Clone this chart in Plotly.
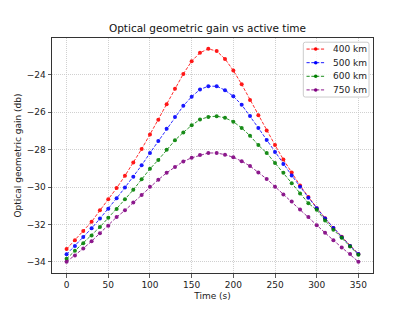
import plotly.graph_objects as go

time_s = list(range(0, 360, 10))

gain_400 = [-33.32, -32.85, -32.36, -31.86, -31.25, -30.66, -30.06, -29.40, -28.69, -27.97,
            -27.19, -26.40, -25.57, -24.75, -23.95, -23.27, -22.82, -22.61, -22.73, -23.15,
            -23.77, -24.51, -25.34, -26.16, -26.98, -27.76, -28.53, -29.23, -29.92, -30.53,
            -31.13, -31.67, -32.19, -32.66, -33.15, -33.58]
gain_500 = [-33.60, -33.15, -32.68, -32.21, -31.69, -31.16, -30.60, -30.03, -29.45, -28.84,
            -28.18, -27.54, -26.89, -26.26, -25.66, -25.17, -24.78, -24.61, -24.61, -24.82,
            -25.15, -25.60, -26.20, -26.84, -27.48, -28.13, -28.77, -29.38, -29.98, -30.57,
            -31.13, -31.68, -32.19, -32.69, -33.15, -33.58]
gain_600 = [-33.84, -33.41, -33.01, -32.59, -32.14, -31.65, -31.18, -30.66, -30.15, -29.59,
            -29.03, -28.55, -28.01, -27.50, -27.08, -26.70, -26.39, -26.25, -26.21, -26.30,
            -26.51, -26.84, -27.26, -27.76, -28.18, -28.72, -29.24, -29.80, -30.35, -30.87,
            -31.22, -31.79, -32.28, -32.71, -33.18, -33.63]
gain_750 = [-34.00, -33.67, -33.29, -32.90, -32.48, -32.07, -31.61, -31.25, -30.83, -30.43,
            -29.98, -29.61, -29.24, -28.93, -28.63, -28.44, -28.29, -28.18, -28.18, -28.27,
            -28.41, -28.62, -28.88, -29.23, -29.57, -29.98, -30.40, -30.78, -31.20, -31.61,
            -32.05, -32.45, -32.85, -33.23, -33.58, -34.00]

series_names = ["400 km", "500 km", "600 km", "750 km"]
series_values = [gain_400, gain_500, gain_600, gain_750]
series_colors = ["red", "blue", "green", "purple"]

x_ticks = [0, 50, 100, 150, 200, 250, 300, 350]
y_ticks = [-34, -32, -30, -28, -26, -24]

W, H = 415, 312
ML, MR, MT, MB = 52, 42, 38, 34
PW, PH = W - ML - MR, H - MT - MB

def px_x(px):  # pixel -> paper x
    return (px - ML) / PW

def px_y(py):  # pixel -> paper y
    return 1 - (py - MT) / PH

DASH = "3.2px,1.6px"
font = "DejaVu Sans"

fig = go.Figure()
for name, vals, col in zip(series_names, series_values, series_colors):
    fig.add_trace(go.Scatter(
        x=time_s, y=vals, name=name, mode="lines+markers",
        line=dict(color=col, width=0.9, dash=DASH),
        marker=dict(color=col, size=4),
        opacity=0.9, showlegend=False,
    ))

# matplotlib-style legend built from the series lists
shapes = []
annotations = []
box_l, box_r, box_t, box_b = 303.3, 369, 42.3, 98.3
row_h = 13.9
row0 = 49.3
r = 2.0
path = (f"M {px_x(box_l + r)},{px_y(box_t)} L {px_x(box_r - r)},{px_y(box_t)} "
        f"Q {px_x(box_r)},{px_y(box_t)} {px_x(box_r)},{px_y(box_t + r)} "
        f"L {px_x(box_r)},{px_y(box_b - r)} Q {px_x(box_r)},{px_y(box_b)} {px_x(box_r - r)},{px_y(box_b)} "
        f"L {px_x(box_l + r)},{px_y(box_b)} Q {px_x(box_l)},{px_y(box_b)} {px_x(box_l)},{px_y(box_b - r)} "
        f"L {px_x(box_l)},{px_y(box_t + r)} Q {px_x(box_l)},{px_y(box_t)} {px_x(box_l + r)},{px_y(box_t)} Z")
shapes.append(dict(type="path", xref="paper", yref="paper", path=path,
                   line=dict(color="#cccccc", width=1), fillcolor="rgba(255,255,255,0.8)",
                   layer="above"))
for i, (name, col) in enumerate(zip(series_names, series_colors)):
    yy = px_y(row0 + i * row_h)
    shapes.append(dict(type="line", xref="paper", yref="paper",
                       x0=px_x(306.5), x1=px_x(325), y0=yy, y1=yy,
                       line=dict(color=col, width=0.9, dash=DASH), layer="above"))
    shapes.append(dict(type="circle", xref="paper", yref="paper",
                       x0=px_x(315.7 - 1.8), x1=px_x(315.7 + 1.8),
                       y0=yy - 1.8 / PH, y1=yy + 1.8 / PH,
                       line=dict(color=col, width=0), fillcolor=col, layer="above"))
    annotations.append(dict(text=name, xref="paper", yref="paper", x=px_x(331), y=yy,
                            xanchor="left", yanchor="middle", showarrow=False,
                            font=dict(family=font, size=9, color="#222")))

axis_common = dict(
    showline=True, linecolor="#333333", linewidth=1, mirror=True,
    ticks="outside", ticklen=3.5, tickcolor="#333333", tickwidth=0.8,
    showgrid=True, gridcolor="#c4c4c4", gridwidth=0.8, griddash="1px,1px",
    zeroline=False, tickfont=dict(family=font, size=9, color="#222"),
)

fig.update_layout(
    width=W, height=H,
    margin=dict(l=ML, r=MR, t=MT, b=MB),
    paper_bgcolor="white", plot_bgcolor="white",
    title=dict(text="Optical geometric gain vs active time", x=0.5, xanchor="center",
               y=1 - 28 / H, yanchor="middle", font=dict(family=font, size=10.5, color="#111")),
    xaxis=dict(range=[-17.5, 367.5], tickvals=x_ticks,
               title=dict(text="Time (s)", font=dict(family=font, size=9, color="#222"), standoff=3),
               **axis_common),
    yaxis=dict(range=[-34.6, -22.03], tickvals=y_ticks,
               title=dict(text="Optical geometric gain (db)", font=dict(family=font, size=9, color="#222"), standoff=3),
               **axis_common),
    shapes=shapes,
    annotations=annotations,
    showlegend=False,
)

fig.write_html("out.html", config={"displayModeBar": False, "staticPlot": True},
               post_script="document.body.style.margin='0';document.body.style.overflow='hidden';")
